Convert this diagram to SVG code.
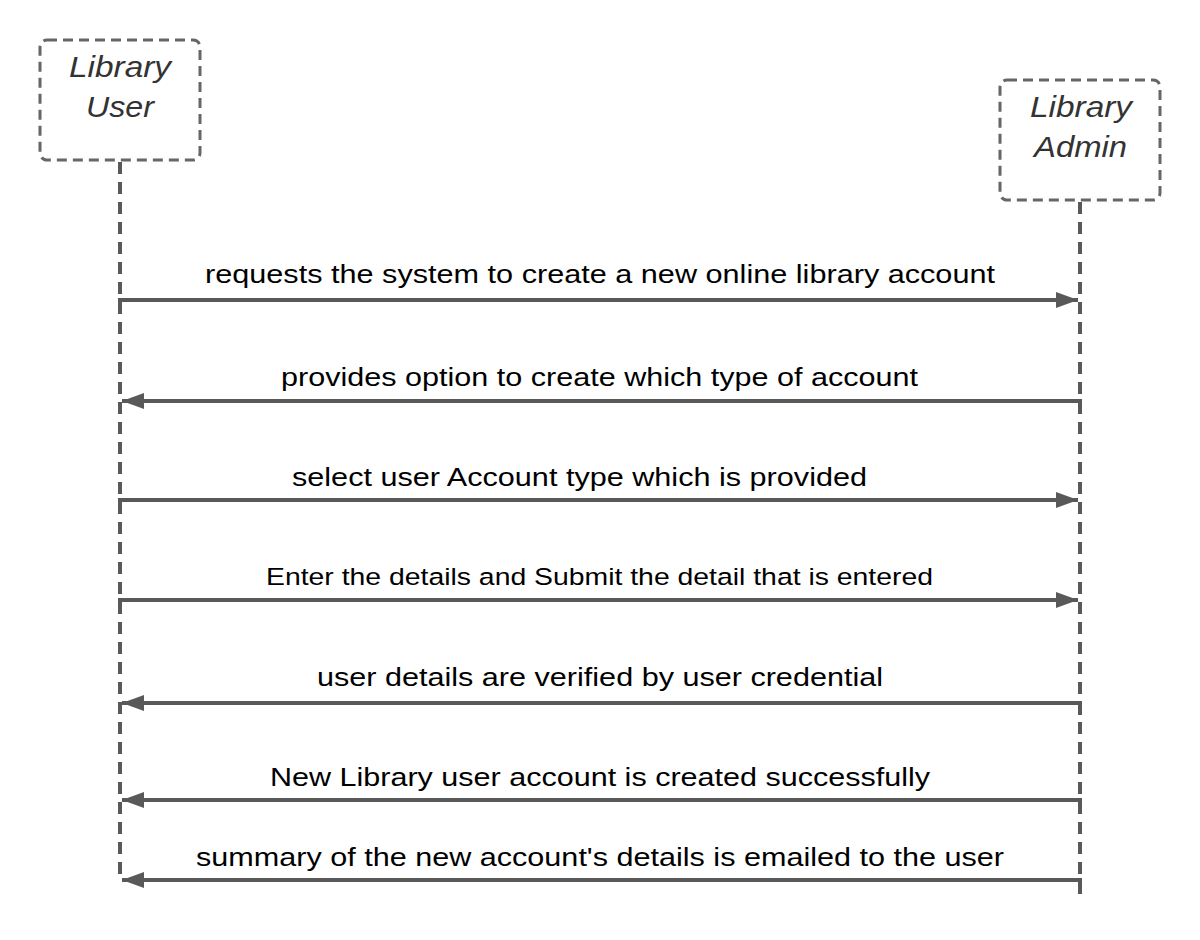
<svg xmlns="http://www.w3.org/2000/svg" width="1200" height="940" viewBox="0 0 1200 940">
<style>
.box{fill:#fff;stroke:#666;stroke-width:3;stroke-dasharray:10 6}
.life{stroke:#595959;stroke-width:4;stroke-dasharray:12 8;fill:none}
.hd{font-family:"Liberation Sans",Arial,sans-serif;font-style:italic;font-size:29px;fill:#333}
.msg{stroke:#595959;stroke-width:4;fill:none}
.lbl{font-family:"Liberation Sans",Arial,sans-serif;font-size:26px;fill:#000}
</style>
<defs>
<marker id="ah" markerWidth="22" markerHeight="16" refX="22" refY="8" orient="auto" markerUnits="userSpaceOnUse">
<path d="M0,0 L22,8 L0,16 Z" fill="#595959"/>
</marker>
</defs>
<rect width="1200" height="940" fill="#fff"/>
<g id="user">
<line class="life" x1="120" y1="162" x2="120" y2="882"/>
<rect class="box" x="40" y="40" width="160" height="120" rx="7"/>
<text class="hd" x="69" y="77" textLength="102" lengthAdjust="spacingAndGlyphs">Library</text>
<text class="hd" x="86" y="117" textLength="68" lengthAdjust="spacingAndGlyphs">User</text>
</g>
<g id="admin">
<line class="life" x1="1080" y1="202" x2="1080" y2="900"/>
<rect class="box" x="1000" y="80" width="160" height="120" rx="7"/>
<text class="hd" x="1030" y="117" textLength="102" lengthAdjust="spacingAndGlyphs">Library</text>
<text class="hd" x="1034" y="157" textLength="93" lengthAdjust="spacingAndGlyphs">Admin</text>
</g>
<g id="connectors">
<path class="msg" d="M120,312 V300 H1078" marker-end="url(#ah)"/>
<path class="msg" d="M1080,413 V401 H122" marker-end="url(#ah)"/>
<path class="msg" d="M120,512 V500 H1078" marker-end="url(#ah)"/>
<path class="msg" d="M120,612 V600 H1078" marker-end="url(#ah)"/>
<path class="msg" d="M1080,715 V703 H122" marker-end="url(#ah)"/>
<path class="msg" d="M1080,812 V800 H122" marker-end="url(#ah)"/>
<path class="msg" d="M1080,892 V880 H122" marker-end="url(#ah)"/>
</g>
<g id="labels">
<text class="lbl" x="205" y="283" textLength="790" lengthAdjust="spacingAndGlyphs">requests the system to create a new online library account</text>
<text class="lbl" x="281" y="386" textLength="637" lengthAdjust="spacingAndGlyphs">provides option to create which type of account</text>
<text class="lbl" x="292" y="486" textLength="575" lengthAdjust="spacingAndGlyphs">select user Account type which is provided</text>
<text class="lbl" x="266" y="585" textLength="667" lengthAdjust="spacingAndGlyphs" style="font-size:24.5px">Enter the details and Submit the detail that is entered</text>
<text class="lbl" x="317" y="686" textLength="566" lengthAdjust="spacingAndGlyphs">user details are verified by user credential</text>
<text class="lbl" x="270" y="786" textLength="660" lengthAdjust="spacingAndGlyphs">New Library user account is created successfully</text>
<text class="lbl" x="196" y="866" textLength="808" lengthAdjust="spacingAndGlyphs">summary of the new account's details is emailed to the user</text>
</g>
</svg>
